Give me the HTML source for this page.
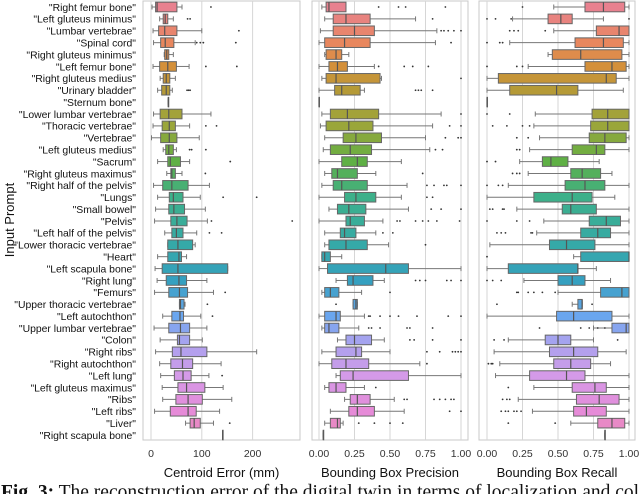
<!DOCTYPE html>
<html><head><meta charset="utf-8"><style>
html,body{margin:0;padding:0;background:#fff;overflow:hidden}
svg{display:block;font-family:"Liberation Sans",sans-serif}
</style></head><body>
<svg id="chart" width="640" height="494" viewBox="0 0 640 494" xmlns="http://www.w3.org/2000/svg"></svg>
<script>
const categories=["Right femur bone","Left gluteus minimus","Lumbar vertebrae","Spinal cord","Right gluteus minimus","Left femur bone","Right gluteus medius","Urinary bladder","Sternum bone","Lower lumbar vertebrae","Thoracic vertebrae","Vertebrae","Left gluteus medius","Sacrum","Right gluteus maximus","Right half of the pelvis","Lungs","Small bowel","Pelvis","Left half of the pelvis","Lower thoracic vertebrae","Heart","Left scapula bone","Right lung","Femurs","Upper thoracic vertebrae","Left autochthon","Upper lumbar vertebrae","Colon","Right ribs","Right autochthon","Left lung","Left gluteus maximus","Ribs","Left ribs","Liver","Right scapula bone"];
// Centroid error (mm)
const ceLo=[2,17,4,5,26,4,18,13,34,5,4,1,24,13,31,5,13,9,7,27,33,13,8,12,7,56,23,6,18,9,17,19,22,23,7,68,141];
const ceQ1=[9,24,15,19,27,17,24,21,34,18,22,19,29,33,39,23,36,35,39,41,33,33,22,30,35,56,41,35,52,42,39,46,53,49,38,77,141];
const ceMed=[12,28,27,28,31,33,30,30,34,35,36,36,35,38,41,41,44,45,51,50,53,55,53,55,56,58,57,58,56,59,62,63,70,73,73,85,141];
const ceQ3=[51,33,51,45,35,50,37,37,34,61,48,51,44,58,48,73,63,66,71,63,82,60,151,70,72,65,64,76,76,110,82,79,106,101,89,97,141];
const ceHi=[61,44,100,87,44,75,48,42,34,118,76,95,50,76,61,115,97,107,111,90,87,70,151,110,123,67,98,110,101,208,138,114,142,159,135,123,141];
const ceOut=[[118],[72,77],[173],[90,97,103,167],[],[108,169],[],[71,74,77],[],[],[108,129],[],[76,80,108],[156],[107],[],[142,208],[],[119,278],[115,139],[],[],[],[],[146],[111],[121],[],[],[],[],[140],[],[],[],[155],[]];
// Bounding box precision
const prLo=[.02,.04,.01,0,.04,0,.02,0,0,.02,.01,.04,.03,0,.04,.02,0,.07,0,.04,.04,.02,0,.12,.02,.24,0,.02,.13,.02,0,.12,.04,.18,.08,.04,.03];
const prQ1=[.05,.10,.10,.04,.05,.07,.05,.11,0,.08,.05,.17,.08,.16,.09,.10,.18,.13,.19,.15,.07,.02,.06,.20,.04,.24,.04,.04,.19,.12,.09,.15,.07,.22,.21,.08,.03];
const prMed=[.07,.19,.25,.18,.12,.13,.12,.16,0,.20,.21,.26,.22,.27,.13,.16,.26,.21,.22,.18,.19,.04,.47,.24,.08,.26,.12,.07,.25,.26,.19,.24,.12,.27,.27,.13,.03];
const prQ3=[.19,.36,.39,.36,.16,.20,.43,.29,0,.42,.38,.44,.37,.34,.27,.34,.40,.33,.32,.26,.34,.08,.63,.38,.14,.27,.15,.14,.37,.30,.35,.63,.19,.36,.39,.15,.03];
const prHi=[.19,.68,.83,.82,.21,.39,.44,.32,0,.86,.80,.75,.78,.58,.40,.62,.58,.63,.45,.40,.49,.16,1.0,.46,.30,.27,.32,.28,.46,.50,.71,1.0,.32,.53,.60,.17,.03];
const prOut=[[.42,.56,.61,.89],[.80],[.86,.88,.91,.95,1.0],[.93],[],[.42,.60,.66,.77],[1.0],[.68,.70,.72,.80],[],[1.0],[.92,1.0],[.89,.98,1.0],[.82,.87],[],[.73],[.76,.81,.88,.90,1.0],[.76,.80],[.79,.86,1.0],[.55,.57,.68,.73,.77,.83,.99],[.45,.52],[.75],[],[],[.68,.71,.75,.90,.93,1.0],[.50],[.12],[.35,.36,.43,.50,.56,.69,.91,1.0],[.35,.37,.43,.62,.64,.80],[.64,.67,.80,1.0],[.76,.85,.94,.96,.98,1.0],[.76],[],[.40],[.60,.62,.81,.85,.89,.93,.95],[.92,1.0],[.28,.39,.50,.59],[]];
// Bounding box recall
const reLo=[.47,.18,.47,.16,.43,.29,0,0,0,.34,.33,.37,.30,.23,.29,.15,0,.21,.40,.35,.02,.61,0,.26,.50,.60,0,.75,.15,.05,.09,.06,.33,.22,.32,.59,.83];
const reQ1=[.69,.43,.77,.62,.46,.69,.08,.16,0,.74,.73,.72,.60,.39,.59,.55,.33,.53,.72,.66,.44,.66,.15,.50,.80,.64,.49,.88,.41,.44,.47,.30,.60,.63,.61,.78,.83];
const reMed=[.82,.52,.93,.82,.66,.88,.84,.49,0,.85,.85,.83,.77,.45,.67,.69,.60,.59,.84,.78,.56,1.0,.64,.60,.95,.67,.61,.98,.50,.61,.59,.56,.76,.79,.70,.88,.83];
const reQ3=[.97,.60,1.0,.96,.95,.98,.91,.64,0,1.0,1.0,.98,.83,.57,.80,.83,.74,.77,.94,.87,.76,1.0,.64,.69,1.0,.67,.88,1.0,.59,.78,.73,.69,.84,.93,.84,.97,.83];
const reHi=[1.0,.82,1.0,1.0,1.0,1.0,1.0,.96,0,1.0,1.0,1.0,1.0,.79,.88,1.0,.90,1.0,1.0,1.0,1.0,1.0,.77,.87,1.0,.67,1.0,1.0,.75,.98,.87,1.0,1.0,1.0,1.0,1.0,.83];
const reOut=[[.25],[0,.06,.17,1.0],[.16,.19,.22,.41],[0,.09,.11],[],[0,.21,.25],[],[],[],[0,.16],[.04,.14,.25,.30],[.21,.29],[.21,.23],[0,.06],[.18,.21,.23],[0,.08,.11],[],[.02,.04,.11,.12],[0,.21,.30],[.07,.10,.13,.31,.32],[],[0],[],[0,.04,.10],[.21,.22,.29,.33,.39,.48],[.07,.74],[],[.37,.66,.72,.78,.83],[.05,.12,.92],[],[.01,.03,.04],[],[.15],[.11,.14,.16],[.10,.13,.15,.19,.21,.24],[.15,.48],[]];
const ceTicks=[0,100,200];
const ceTickLabels=["0","100","200"];
const frTicks=[0,.25,.5,.75,1];
const frTickLabels=["0.00","0.25","0.50","0.75","1.00"];

const NS="http://www.w3.org/2000/svg";
const svg=document.getElementById('chart');
function mk(tag,attrs,parent){const e=document.createElementNS(NS,tag);for(const k in attrs)e.setAttribute(k,attrs[k]);(parent||svg).appendChild(e);return e;}
const anchors=[[0,[232,129,143]],[3,[232,135,94]],[5,[212,144,58]],[7,[181,154,55]],[10,[154,166,58]],[13,[95,176,69]],[16,[61,176,138]],[20,[53,169,168]],[23,[53,160,192]],[26,[106,166,239]],[28,[164,163,239]],[31,[212,154,232]],[34,[230,139,216]],[36,[234,134,180]]];
function colorAt(i){for(let k=0;k<anchors.length-1;k++){const a=anchors[k],b=anchors[k+1];if(i>=a[0]&&i<=b[0]){const t=(i-a[0])/(b[0]-a[0]);const c=a[1].map((v,j)=>Math.round(v+(b[1][j]-v)*t));return `rgb(${c[0]},${c[1]},${c[2]})`;}}return 'gray';}
const yTop=7,rowH=11.89,boxH=9.6;
const yRow=i=>yTop+i*rowH;
const panels=[
 {name:'centroid-error',x0:143,x1:300,sx:v=>151+v*0.508,ticks:ceTicks,tl:ceTickLabels,title:'Centroid Error (mm)',lo:ceLo,q1:ceQ1,med:ceMed,q3:ceQ3,hi:ceHi,out:ceOut},
 {name:'precision',x0:312,x1:468,sx:v=>319+v*142,ticks:frTicks,tl:frTickLabels,title:'Bounding Box Precision',lo:prLo,q1:prQ1,med:prMed,q3:prQ3,hi:prHi,out:prOut},
 {name:'recall',x0:479,x1:635,sx:v=>487+v*142,ticks:frTicks,tl:frTickLabels,title:'Bounding Box Recall',lo:reLo,q1:reQ1,med:reMed,q3:reQ3,hi:reHi,out:reOut}
];
panels.forEach(p=>{
 const g=mk('g',{});
 
 
 const fr=mk('rect',{x:p.x0,y:1,width:p.x1-p.x0,height:439,fill:'#fff',stroke:'#c8c8c8','stroke-width':1},g);
 
 
 p.ticks.forEach((t,k)=>{
  const x=p.sx(t);
  const gl=mk('line',{x1:x,x2:x,y1:1,y2:440,stroke:'#d6d6d6','stroke-width':1},g);
  
  
  const tx=mk('text',{x:x,y:457,'font-size':10.5,'text-anchor':'middle',fill:'#333'},g);
  tx.textContent=p.tl[k];
  
  
 });
 const at=mk('text',{x:(p.x0+p.x1)/2,y:477,'font-size':13,'text-anchor':'middle',fill:'#111'},g);
 at.textContent=p.title;
 
 
 categories.forEach((c,i)=>{
  const y=yRow(i),col=colorAt(i);
  const bg=mk('g',{},g);
  
  
  const xl=p.sx(p.lo[i]),x1=p.sx(p.q1[i]),xm=p.sx(p.med[i]),x3=p.sx(p.q3[i]),xh=p.sx(p.hi[i]);
  mk('line',{x1:xl,x2:x1,y1:y,y2:y,stroke:'#777','stroke-width':1},bg);
  mk('line',{x1:x3,x2:xh,y1:y,y2:y,stroke:'#777','stroke-width':1},bg);
  mk('line',{x1:xl,x2:xl,y1:y-2.5,y2:y+2.5,stroke:'#777','stroke-width':1},bg);
  mk('line',{x1:xh,x2:xh,y1:y-2.5,y2:y+2.5,stroke:'#777','stroke-width':1},bg);
  mk('rect',{x:x1,y:y-boxH/2,width:Math.max(x3-x1,0.5),height:boxH,fill:col,stroke:'#666','stroke-width':1},bg);
  mk('line',{x1:xm,x2:xm,y1:y-boxH/2,y2:y+boxH/2,stroke:'#555','stroke-width':1.2},bg);
  p.out[i].forEach(v=>{
   const d=mk('circle',{cx:p.sx(v),cy:y,r:0.9,fill:'#333'},bg);
   
   
  });
 });
});
categories.forEach((c,i)=>{
 const t=mk('text',{x:136,y:yRow(i)+3.8,'font-size':10.4,'text-anchor':'end',fill:'#111'});
 t.textContent='"'+c+'"';
 
 
});
const yt=mk('text',{x:0,y:0,'font-size':13,'text-anchor':'middle',fill:'#111',transform:'translate(14,220) rotate(-90)'});
yt.textContent='Input Prompt';


const cap=mk('text',{x:1,y:498,'font-size':19.5,fill:'#111','font-family':'"Liberation Serif",serif'});


const b=mk('tspan',{'font-weight':'bold'},cap);b.textContent='Fig. 3:';
const r=mk('tspan',{},cap);r.textContent=' The reconstruction error of the digital twin in terms of localization and col';
</script>
</body></html>
